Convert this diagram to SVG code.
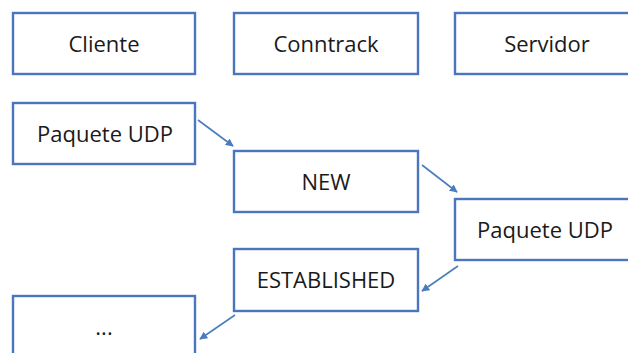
<svg xmlns="http://www.w3.org/2000/svg" width="628" height="353" viewBox="0 0 628 353">
  <style>
    .box { fill: #ffffff; stroke: #4a76bd; stroke-width: 2.4; }
    .lbl { font-family: "Open Sans", "Noto Sans", sans-serif; font-size: 22px; font-weight: 500; fill: #1a1a1a; text-anchor: middle; dominant-baseline: central; }
    .link { stroke: #4a7dbf; stroke-width: 1.6; fill: none; marker-end: url(#head); }
  </style>
  <defs>
    <marker id="head" viewBox="0 0 10 10" refX="9" refY="5" markerWidth="8" markerHeight="8" markerUnits="userSpaceOnUse" orient="auto">
      <path d="M0,0 L10,5 L0,10 z" fill="#4a7dbf"/>
    </marker>
  </defs>
  <rect width="628" height="353" fill="#ffffff"/>

  <g id="cliente">
    <rect class="box" x="13" y="13" width="182" height="61"/>
    <text class="lbl" x="104" y="43">Cliente</text>
  </g>
  <g id="conntrack">
    <rect class="box" x="234" y="13" width="184" height="61"/>
    <text class="lbl" x="326" y="43">Conntrack</text>
  </g>
  <g id="servidor">
    <rect class="box" x="455" y="13" width="184" height="61"/>
    <text class="lbl" x="547" y="43">Servidor</text>
  </g>

  <g id="paquete-cliente">
    <rect class="box" x="13" y="103" width="182" height="61"/>
    <text class="lbl" x="105" y="133">Paquete UDP</text>
  </g>
  <g id="estado-new">
    <rect class="box" x="234" y="151" width="184" height="61"/>
    <text class="lbl" x="326" y="181">NEW</text>
  </g>
  <g id="paquete-servidor">
    <rect class="box" x="455" y="199" width="184" height="61"/>
    <text class="lbl" x="545" y="229">Paquete UDP</text>
  </g>
  <g id="estado-established">
    <rect class="box" x="234" y="249" width="184" height="62"/>
    <text class="lbl" x="326" y="279">ESTABLISHED</text>
  </g>
  <g id="continua">
    <rect class="box" x="13" y="296" width="182" height="62"/>
    <text class="lbl" x="104" y="326">...</text>
  </g>

  <g id="connectors">
    <line class="link" x1="198" y1="120" x2="233" y2="146"/>
    <line class="link" x1="422" y1="165" x2="457" y2="192"/>
    <line class="link" x1="458" y1="266" x2="422" y2="291"/>
    <line class="link" x1="235" y1="315" x2="200" y2="339"/>
  </g>
</svg>
